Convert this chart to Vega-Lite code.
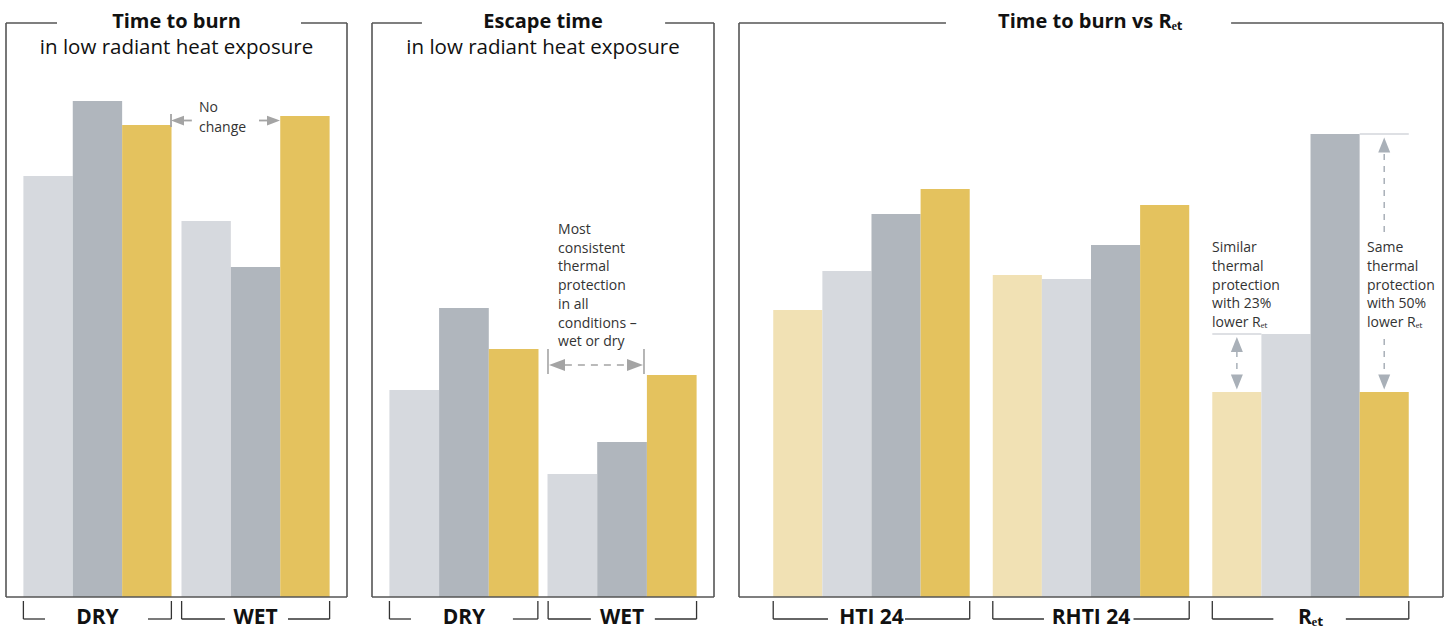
{
  "$schema": "https://vega.github.io/schema/vega-lite/v6.json",
  "background": "white",
  "padding": {"left": 5, "top": 11, "right": 2, "bottom": 0},
  "spacing": 25,
  "bounds": "flush",
  "resolve": {"scale": {"xOffset": "independent", "x": "independent"}},
  "config": {"view": {"stroke": null}, "font": "Open Sans"},
  "datasets": {
    "burn": [
      {"group": "DRY", "fabric": "Fabric B", "value": 42.1},
      {"group": "DRY", "fabric": "Fabric C", "value": 49.6},
      {"group": "DRY", "fabric": "Fabric D", "value": 47.2},
      {"group": "WET", "fabric": "Fabric B", "value": 37.6},
      {"group": "WET", "fabric": "Fabric C", "value": 33.0},
      {"group": "WET", "fabric": "Fabric D", "value": 48.1}
    ],
    "escape": [
      {"group": "DRY", "fabric": "Fabric B", "value": 20.7},
      {"group": "DRY", "fabric": "Fabric C", "value": 28.9},
      {"group": "DRY", "fabric": "Fabric D", "value": 24.8},
      {"group": "WET", "fabric": "Fabric B", "value": 12.3},
      {"group": "WET", "fabric": "Fabric C", "value": 15.5},
      {"group": "WET", "fabric": "Fabric D", "value": 22.2}
    ],
    "ret": [
      {"group": "HTI 24", "fabric": "Fabric A", "value": 28.7},
      {"group": "HTI 24", "fabric": "Fabric B", "value": 32.6},
      {"group": "HTI 24", "fabric": "Fabric C", "value": 38.3},
      {"group": "HTI 24", "fabric": "Fabric D", "value": 40.8},
      {"group": "RHTI 24", "fabric": "Fabric A", "value": 32.2},
      {"group": "RHTI 24", "fabric": "Fabric B", "value": 31.8},
      {"group": "RHTI 24", "fabric": "Fabric C", "value": 35.2},
      {"group": "RHTI 24", "fabric": "Fabric D", "value": 39.2},
      {"group": "Rₑₜ", "fabric": "Fabric A", "value": 20.5},
      {"group": "Rₑₜ", "fabric": "Fabric B", "value": 26.3},
      {"group": "Rₑₜ", "fabric": "Fabric C", "value": 46.3},
      {"group": "Rₑₜ", "fabric": "Fabric D", "value": 20.5}
    ],
    "lines1": [
      {"kind": "frame", "x": 0, "x2": 0, "y": 0, "y2": 57.4},
      {"kind": "frame", "x": 100, "x2": 100, "y": 0, "y2": 57.4},
      {"kind": "frame", "x": 0, "x2": 100, "y": 0, "y2": 0},
      {"kind": "frame", "x": 0, "x2": 14.96, "y": 57.4, "y2": 57.4},
      {"kind": "frame", "x": 86.5, "x2": 100, "y": 57.4, "y2": 57.4},
      {"kind": "bracket", "x": 5.1, "x2": 5.1, "y": -0.4, "y2": -2.2},
      {"kind": "bracket", "x": 5.1, "x2": 11.44, "y": -2.2, "y2": -2.2},
      {"kind": "bracket", "x": 41.64, "x2": 48.5, "y": -2.2, "y2": -2.2},
      {"kind": "bracket", "x": 48.5, "x2": 48.5, "y": -0.4, "y2": -2.2},
      {"kind": "bracket", "x": 51.5, "x2": 51.5, "y": -0.4, "y2": -2.2},
      {"kind": "bracket", "x": 51.5, "x2": 64.2, "y": -2.2, "y2": -2.2},
      {"kind": "bracket", "x": 82.7, "x2": 94.9, "y": -2.2, "y2": -2.2},
      {"kind": "bracket", "x": 94.9, "x2": 94.9, "y": -0.4, "y2": -2.2},
      {"kind": "arrow", "x": 48.39, "x2": 48.39, "y": 48.3, "y2": 47.0},
      {"kind": "arrow", "x": 52.2, "x2": 54.5, "y": 47.65, "y2": 47.65},
      {"kind": "arrow", "x": 74.2, "x2": 77.1, "y": 47.65, "y2": 47.65}
    ],
    "lines2": [
      {"kind": "frame", "x": 0, "x2": 0, "y": 0, "y2": 57.4},
      {"kind": "frame", "x": 100, "x2": 100, "y": 0, "y2": 57.4},
      {"kind": "frame", "x": 0, "x2": 100, "y": 0, "y2": 0},
      {"kind": "frame", "x": 0, "x2": 14.6, "y": 57.4, "y2": 57.4},
      {"kind": "frame", "x": 85.7, "x2": 100, "y": 57.4, "y2": 57.4},
      {"kind": "bracket", "x": 5.1, "x2": 5.1, "y": -0.4, "y2": -2.2},
      {"kind": "bracket", "x": 5.1, "x2": 11.4, "y": -2.2, "y2": -2.2},
      {"kind": "bracket", "x": 41.2, "x2": 48.5, "y": -2.2, "y2": -2.2},
      {"kind": "bracket", "x": 48.5, "x2": 48.5, "y": -0.4, "y2": -2.2},
      {"kind": "bracket", "x": 51.5, "x2": 51.5, "y": -0.4, "y2": -2.2},
      {"kind": "bracket", "x": 51.5, "x2": 64.0, "y": -2.2, "y2": -2.2},
      {"kind": "bracket", "x": 82.7, "x2": 94.9, "y": -2.2, "y2": -2.2},
      {"kind": "bracket", "x": 94.9, "x2": 94.9, "y": -0.4, "y2": -2.2},
      {"kind": "arrow", "x": 51.46, "x2": 51.46, "y": 24.8, "y2": 22.3},
      {"kind": "arrow", "x": 79.53, "x2": 79.53, "y": 24.8, "y2": 22.3},
      {"kind": "dash", "x": 56.4, "x2": 74.3, "y": 23.2, "y2": 23.2}
    ],
    "lines3": [
      {"kind": "frame", "x": 0, "x2": 0, "y": 0, "y2": 57.4},
      {"kind": "frame", "x": 100, "x2": 100, "y": 0, "y2": 57.4},
      {"kind": "frame", "x": 0, "x2": 100, "y": 0, "y2": 0},
      {"kind": "frame", "x": 0, "x2": 29.4, "y": 57.4, "y2": 57.4},
      {"kind": "frame", "x": 69.9, "x2": 100, "y": 57.4, "y2": 57.4},
      {"kind": "bracket", "x": 4.86, "x2": 4.86, "y": -0.4, "y2": -2.2},
      {"kind": "bracket", "x": 4.86, "x2": 12.64, "y": -2.2, "y2": -2.2},
      {"kind": "bracket", "x": 23.58, "x2": 32.77, "y": -2.2, "y2": -2.2},
      {"kind": "bracket", "x": 32.77, "x2": 32.77, "y": -0.4, "y2": -2.2},
      {"kind": "bracket", "x": 36.05, "x2": 36.05, "y": -0.4, "y2": -2.2},
      {"kind": "bracket", "x": 36.05, "x2": 43.32, "y": -2.2, "y2": -2.2},
      {"kind": "bracket", "x": 56.04, "x2": 63.95, "y": -2.2, "y2": -2.2},
      {"kind": "bracket", "x": 63.95, "x2": 63.95, "y": -0.4, "y2": -2.2},
      {"kind": "bracket", "x": 67.23, "x2": 67.23, "y": -0.4, "y2": -2.2},
      {"kind": "bracket", "x": 67.23, "x2": 75.9, "y": -2.2, "y2": -2.2},
      {"kind": "bracket", "x": 86.2, "x2": 95.14, "y": -2.2, "y2": -2.2},
      {"kind": "bracket", "x": 95.14, "x2": 95.14, "y": -0.4, "y2": -2.2},
      {"kind": "ref", "x": 67.23, "x2": 74.21, "y": 26.3, "y2": 26.3},
      {"kind": "ref", "x": 88.16, "x2": 95.14, "y": 46.3, "y2": 46.3},
      {"kind": "dash", "x": 70.72, "x2": 70.72, "y": 24.6, "y2": 22.3},
      {"kind": "dash", "x": 91.65, "x2": 91.65, "y": 44.3, "y2": 36.4},
      {"kind": "dash", "x": 91.65, "x2": 91.65, "y": 25.8, "y2": 22.4}
    ],
    "heads1": [
      {"x": 50.29, "y": 47.65, "dir": "left"},
      {"x": 78.45, "y": 47.65, "dir": "right"}
    ],
    "heads2": [
      {"x": 54.1, "y": 23.2, "dir": "left"},
      {"x": 76.9, "y": 23.2, "dir": "right"}
    ],
    "heads3": [
      {"x": 70.72, "y": 25.25, "dir": "up"},
      {"x": 70.72, "y": 21.5, "dir": "down"},
      {"x": 91.65, "y": 45.2, "dir": "up"},
      {"x": 91.65, "y": 21.5, "dir": "down"}
    ],
    "titles": [
      {"panel": 1, "role": "title", "x": 50, "y": 57.5, "text": "Time to burn"},
      {"panel": 1, "role": "sub", "x": 50, "y": 54.95, "text": "in low radiant heat exposure"},
      {"panel": 2, "role": "title", "x": 50, "y": 57.5, "text": "Escape time"},
      {"panel": 2, "role": "sub", "x": 50, "y": 54.95, "text": "in low radiant heat exposure"},
      {"panel": 3, "role": "title", "x": 49.9, "y": 57.5, "text": "Time to burn vs Rₑₜ"}
    ],
    "notes": [
      {"panel": 1, "x": 56.6, "y": 48.9, "text": "No\nchange"},
      {"panel": 2, "x": 54.4, "y": 36.7, "text": "Most\nconsistent\nthermal\nprotection\nin all\nconditions –\nwet or dry"},
      {"panel": 3, "x": 67.2, "y": 34.9, "text": "Similar\nthermal\nprotection\nwith 23%\nlower Rₑₜ"},
      {"panel": 3, "x": 89.2, "y": 34.9, "text": "Same\nthermal\nprotection\nwith 50%\nlower Rₑₜ"}
    ]
  },
  "hconcat": [
    {
      "width": 341,
      "height": 574,
      "resolve": {"scale": {"x": "independent"}},
      "layer": [
        {
          "data": {"name": "burn"},
          "mark": {"type": "bar"},
          "encoding": {
            "x": {"field": "group", "type": "nominal", "sort": ["DRY", "WET"], "axis": null, "scale": {"type": "band", "paddingInner": 0.063, "paddingOuter": 0.11}},
            "xOffset": {"field": "fabric", "type": "nominal", "sort": ["Fabric B", "Fabric C", "Fabric D"], "scale": {"paddingInner": 0, "paddingOuter": 0}},
            "y": {"field": "value", "type": "quantitative", "axis": null, "scale": {"domain": [0, 57.4], "nice": false, "zero": false}},
            "color": {"field": "fabric", "type": "nominal", "legend": null, "scale": {"domain": ["Fabric A", "Fabric B", "Fabric C", "Fabric D"], "range": ["#f1e1b4", "#d6d9de", "#b0b6bd", "#e4c25e"]}}
          }
        },
        {
          "data": {"name": "burn"},
          "transform": [{"aggregate": [{"op": "count", "as": "n"}], "groupby": ["group"]}],
          "mark": {"type": "text", "fontWeight": "bold", "fontSize": 21, "color": "#111111", "baseline": "middle"},
          "encoding": {
            "x": {"field": "group", "type": "nominal", "sort": ["DRY", "WET"], "axis": null, "scale": {"type": "band", "paddingInner": 0.063, "paddingOuter": 0.11}},
            "y": {"datum": -2.05, "type": "quantitative", "axis": null, "scale": {"domain": [0, 57.4], "nice": false, "zero": false}},
            "text": {"field": "group"}
          }
        },
        {
          "data": {"name": "lines1"},
          "transform": [{"filter": "datum.kind == 'frame'"}],
          "mark": {"type": "rule", "color": "#555555", "strokeWidth": 1.6},
          "encoding": {
            "x": {"field": "x", "type": "quantitative", "axis": null, "scale": {"domain": [0, 100], "nice": false, "zero": false}},
            "x2": {"field": "x2"},
            "y": {"field": "y", "type": "quantitative", "axis": null, "scale": {"domain": [0, 57.4], "nice": false, "zero": false}},
            "y2": {"field": "y2"}
          }
        },
        {
          "data": {"name": "lines1"},
          "transform": [{"filter": "datum.kind == 'bracket'"}],
          "mark": {"type": "rule", "color": "#333333", "strokeWidth": 1.3},
          "encoding": {
            "x": {"field": "x", "type": "quantitative", "axis": null, "scale": {"domain": [0, 100], "nice": false, "zero": false}},
            "x2": {"field": "x2"},
            "y": {"field": "y", "type": "quantitative", "axis": null, "scale": {"domain": [0, 57.4], "nice": false, "zero": false}},
            "y2": {"field": "y2"}
          }
        },
        {
          "data": {"name": "lines1"},
          "transform": [{"filter": "datum.kind == 'arrow'"}],
          "mark": {"type": "rule", "color": "#a4a4a4", "strokeWidth": 1.8},
          "encoding": {
            "x": {"field": "x", "type": "quantitative", "axis": null, "scale": {"domain": [0, 100], "nice": false, "zero": false}},
            "x2": {"field": "x2"},
            "y": {"field": "y", "type": "quantitative", "axis": null, "scale": {"domain": [0, 57.4], "nice": false, "zero": false}},
            "y2": {"field": "y2"}
          }
        },
        {
          "data": {"name": "heads1"},
          "mark": {"type": "point", "filled": true, "opacity": 1, "size": 169, "color": "#a4a4a4", "strokeWidth": 0},
          "encoding": {
            "x": {"field": "x", "type": "quantitative", "axis": null, "scale": {"domain": [0, 100], "nice": false, "zero": false}},
            "y": {"field": "y", "type": "quantitative", "axis": null, "scale": {"domain": [0, 57.4], "nice": false, "zero": false}},
            "shape": {"field": "dir", "type": "nominal", "legend": null, "scale": {"domain": ["left", "right", "up", "down"], "range": ["M-1,0L1,-0.75L1,0.75Z", "M1,0L-1,-0.75L-1,0.75Z", "M0,-1L0.8,1L-0.8,1Z", "M0,1L0.8,-1L-0.8,-1Z"]}}
          }
        },
        {
          "data": {"name": "titles"},
          "transform": [{"filter": "datum.panel == 1 && datum.role == 'title'"}],
          "mark": {"type": "text", "fontWeight": "bold", "fontSize": 20, "color": "#111111", "baseline": "middle"},
          "encoding": {
            "x": {"field": "x", "type": "quantitative", "axis": null, "scale": {"domain": [0, 100], "nice": false, "zero": false}},
            "y": {"field": "y", "type": "quantitative", "axis": null, "scale": {"domain": [0, 57.4], "nice": false, "zero": false}},
            "text": {"field": "text"}
          }
        },
        {
          "data": {"name": "titles"},
          "transform": [{"filter": "datum.panel == 1 && datum.role == 'sub'"}],
          "mark": {"type": "text", "fontSize": 20.5, "color": "#111111", "baseline": "middle"},
          "encoding": {
            "x": {"field": "x", "type": "quantitative", "axis": null, "scale": {"domain": [0, 100], "nice": false, "zero": false}},
            "y": {"field": "y", "type": "quantitative", "axis": null, "scale": {"domain": [0, 57.4], "nice": false, "zero": false}},
            "text": {"field": "text"}
          }
        },
        {
          "data": {"name": "notes"},
          "transform": [{"filter": "datum.panel == 1"}],
          "mark": {"type": "text", "fontSize": 14, "color": "#333333", "align": "left", "baseline": "middle", "lineBreak": "\n", "lineHeight": 20},
          "encoding": {
            "x": {"field": "x", "type": "quantitative", "axis": null, "scale": {"domain": [0, 100], "nice": false, "zero": false}},
            "y": {"field": "y", "type": "quantitative", "axis": null, "scale": {"domain": [0, 57.4], "nice": false, "zero": false}},
            "text": {"field": "text"}
          }
        }
      ]
    },
    {
      "width": 342,
      "height": 574,
      "resolve": {"scale": {"x": "independent"}},
      "layer": [
        {
          "data": {"name": "escape"},
          "mark": {"type": "bar"},
          "encoding": {
            "x": {"field": "group", "type": "nominal", "sort": ["DRY", "WET"], "axis": null, "scale": {"type": "band", "paddingInner": 0.057, "paddingOuter": 0.11}},
            "xOffset": {"field": "fabric", "type": "nominal", "sort": ["Fabric B", "Fabric C", "Fabric D"], "scale": {"paddingInner": 0, "paddingOuter": 0}},
            "y": {"field": "value", "type": "quantitative", "axis": null, "scale": {"domain": [0, 57.4], "nice": false, "zero": false}},
            "color": {"field": "fabric", "type": "nominal", "legend": null, "scale": {"domain": ["Fabric A", "Fabric B", "Fabric C", "Fabric D"], "range": ["#f1e1b4", "#d6d9de", "#b0b6bd", "#e4c25e"]}}
          }
        },
        {
          "data": {"name": "escape"},
          "transform": [{"aggregate": [{"op": "count", "as": "n"}], "groupby": ["group"]}],
          "mark": {"type": "text", "fontWeight": "bold", "fontSize": 21, "color": "#111111", "baseline": "middle"},
          "encoding": {
            "x": {"field": "group", "type": "nominal", "sort": ["DRY", "WET"], "axis": null, "scale": {"type": "band", "paddingInner": 0.057, "paddingOuter": 0.11}},
            "y": {"datum": -2.05, "type": "quantitative", "axis": null, "scale": {"domain": [0, 57.4], "nice": false, "zero": false}},
            "text": {"field": "group"}
          }
        },
        {
          "data": {"name": "lines2"},
          "transform": [{"filter": "datum.kind == 'frame'"}],
          "mark": {"type": "rule", "color": "#555555", "strokeWidth": 1.6},
          "encoding": {
            "x": {"field": "x", "type": "quantitative", "axis": null, "scale": {"domain": [0, 100], "nice": false, "zero": false}},
            "x2": {"field": "x2"},
            "y": {"field": "y", "type": "quantitative", "axis": null, "scale": {"domain": [0, 57.4], "nice": false, "zero": false}},
            "y2": {"field": "y2"}
          }
        },
        {
          "data": {"name": "lines2"},
          "transform": [{"filter": "datum.kind == 'bracket'"}],
          "mark": {"type": "rule", "color": "#333333", "strokeWidth": 1.3},
          "encoding": {
            "x": {"field": "x", "type": "quantitative", "axis": null, "scale": {"domain": [0, 100], "nice": false, "zero": false}},
            "x2": {"field": "x2"},
            "y": {"field": "y", "type": "quantitative", "axis": null, "scale": {"domain": [0, 57.4], "nice": false, "zero": false}},
            "y2": {"field": "y2"}
          }
        },
        {
          "data": {"name": "lines2"},
          "transform": [{"filter": "datum.kind == 'arrow'"}],
          "mark": {"type": "rule", "color": "#a4a4a4", "strokeWidth": 1.6},
          "encoding": {
            "x": {"field": "x", "type": "quantitative", "axis": null, "scale": {"domain": [0, 100], "nice": false, "zero": false}},
            "x2": {"field": "x2"},
            "y": {"field": "y", "type": "quantitative", "axis": null, "scale": {"domain": [0, 57.4], "nice": false, "zero": false}},
            "y2": {"field": "y2"}
          }
        },
        {
          "data": {"name": "lines2"},
          "transform": [{"filter": "datum.kind == 'dash'"}],
          "mark": {"type": "rule", "color": "#a4a4a4", "strokeWidth": 1.6, "strokeDash": [7, 6]},
          "encoding": {
            "x": {"field": "x", "type": "quantitative", "axis": null, "scale": {"domain": [0, 100], "nice": false, "zero": false}},
            "x2": {"field": "x2"},
            "y": {"field": "y", "type": "quantitative", "axis": null, "scale": {"domain": [0, 57.4], "nice": false, "zero": false}},
            "y2": {"field": "y2"}
          }
        },
        {
          "data": {"name": "heads2"},
          "mark": {"type": "point", "filled": true, "opacity": 1, "size": 256, "color": "#a4a4a4", "strokeWidth": 0},
          "encoding": {
            "x": {"field": "x", "type": "quantitative", "axis": null, "scale": {"domain": [0, 100], "nice": false, "zero": false}},
            "y": {"field": "y", "type": "quantitative", "axis": null, "scale": {"domain": [0, 57.4], "nice": false, "zero": false}},
            "shape": {"field": "dir", "type": "nominal", "legend": null, "scale": {"domain": ["left", "right", "up", "down"], "range": ["M-1,0L1,-0.7L1,0.7Z", "M1,0L-1,-0.7L-1,0.7Z", "M0,-1L0.8,1L-0.8,1Z", "M0,1L0.8,-1L-0.8,-1Z"]}}
          }
        },
        {
          "data": {"name": "titles"},
          "transform": [{"filter": "datum.panel == 2 && datum.role == 'title'"}],
          "mark": {"type": "text", "fontWeight": "bold", "fontSize": 20, "color": "#111111", "baseline": "middle"},
          "encoding": {
            "x": {"field": "x", "type": "quantitative", "axis": null, "scale": {"domain": [0, 100], "nice": false, "zero": false}},
            "y": {"field": "y", "type": "quantitative", "axis": null, "scale": {"domain": [0, 57.4], "nice": false, "zero": false}},
            "text": {"field": "text"}
          }
        },
        {
          "data": {"name": "titles"},
          "transform": [{"filter": "datum.panel == 2 && datum.role == 'sub'"}],
          "mark": {"type": "text", "fontSize": 20.5, "color": "#111111", "baseline": "middle"},
          "encoding": {
            "x": {"field": "x", "type": "quantitative", "axis": null, "scale": {"domain": [0, 100], "nice": false, "zero": false}},
            "y": {"field": "y", "type": "quantitative", "axis": null, "scale": {"domain": [0, 57.4], "nice": false, "zero": false}},
            "text": {"field": "text"}
          }
        },
        {
          "data": {"name": "notes"},
          "transform": [{"filter": "datum.panel == 2"}],
          "mark": {"type": "text", "fontSize": 14, "color": "#333333", "align": "left", "baseline": "middle", "lineBreak": "\n", "lineHeight": 18.7},
          "encoding": {
            "x": {"field": "x", "type": "quantitative", "axis": null, "scale": {"domain": [0, 100], "nice": false, "zero": false}},
            "y": {"field": "y", "type": "quantitative", "axis": null, "scale": {"domain": [0, 57.4], "nice": false, "zero": false}},
            "text": {"field": "text"}
          }
        }
      ]
    },
    {
      "width": 704,
      "height": 574,
      "resolve": {"scale": {"x": "independent"}},
      "layer": [
        {
          "data": {"name": "ret"},
          "mark": {"type": "bar"},
          "encoding": {
            "x": {"field": "group", "type": "nominal", "sort": ["HTI 24", "RHTI 24", "Rₑₜ"], "axis": null, "scale": {"type": "band", "paddingInner": 0.105, "paddingOuter": 0.156}},
            "xOffset": {"field": "fabric", "type": "nominal", "sort": ["Fabric A", "Fabric B", "Fabric C", "Fabric D"], "scale": {"paddingInner": 0, "paddingOuter": 0}},
            "y": {"field": "value", "type": "quantitative", "axis": null, "scale": {"domain": [0, 57.4], "nice": false, "zero": false}},
            "color": {"field": "fabric", "type": "nominal", "legend": null, "scale": {"domain": ["Fabric A", "Fabric B", "Fabric C", "Fabric D"], "range": ["#f1e1b4", "#d6d9de", "#b0b6bd", "#e4c25e"]}}
          }
        },
        {
          "data": {"name": "ret"},
          "transform": [{"aggregate": [{"op": "count", "as": "n"}], "groupby": ["group"]}],
          "mark": {"type": "text", "fontWeight": "bold", "fontSize": 21, "color": "#111111", "baseline": "middle"},
          "encoding": {
            "x": {"field": "group", "type": "nominal", "sort": ["HTI 24", "RHTI 24", "Rₑₜ"], "axis": null, "scale": {"type": "band", "paddingInner": 0.105, "paddingOuter": 0.156}},
            "y": {"datum": -2.05, "type": "quantitative", "axis": null, "scale": {"domain": [0, 57.4], "nice": false, "zero": false}},
            "text": {"field": "group"}
          }
        },
        {
          "data": {"name": "lines3"},
          "transform": [{"filter": "datum.kind == 'frame'"}],
          "mark": {"type": "rule", "color": "#555555", "strokeWidth": 1.6},
          "encoding": {
            "x": {"field": "x", "type": "quantitative", "axis": null, "scale": {"domain": [0, 100], "nice": false, "zero": false}},
            "x2": {"field": "x2"},
            "y": {"field": "y", "type": "quantitative", "axis": null, "scale": {"domain": [0, 57.4], "nice": false, "zero": false}},
            "y2": {"field": "y2"}
          }
        },
        {
          "data": {"name": "lines3"},
          "transform": [{"filter": "datum.kind == 'bracket'"}],
          "mark": {"type": "rule", "color": "#333333", "strokeWidth": 1.3},
          "encoding": {
            "x": {"field": "x", "type": "quantitative", "axis": null, "scale": {"domain": [0, 100], "nice": false, "zero": false}},
            "x2": {"field": "x2"},
            "y": {"field": "y", "type": "quantitative", "axis": null, "scale": {"domain": [0, 57.4], "nice": false, "zero": false}},
            "y2": {"field": "y2"}
          }
        },
        {
          "data": {"name": "lines3"},
          "transform": [{"filter": "datum.kind == 'ref'"}],
          "mark": {"type": "rule", "color": "#d3d6db", "strokeWidth": 1.5},
          "encoding": {
            "x": {"field": "x", "type": "quantitative", "axis": null, "scale": {"domain": [0, 100], "nice": false, "zero": false}},
            "x2": {"field": "x2"},
            "y": {"field": "y", "type": "quantitative", "axis": null, "scale": {"domain": [0, 57.4], "nice": false, "zero": false}},
            "y2": {"field": "y2"}
          }
        },
        {
          "data": {"name": "lines3"},
          "transform": [{"filter": "datum.kind == 'dash'"}],
          "mark": {"type": "rule", "color": "#a9b0b8", "strokeWidth": 1.5, "strokeDash": [6, 6]},
          "encoding": {
            "x": {"field": "x", "type": "quantitative", "axis": null, "scale": {"domain": [0, 100], "nice": false, "zero": false}},
            "x2": {"field": "x2"},
            "y": {"field": "y", "type": "quantitative", "axis": null, "scale": {"domain": [0, 57.4], "nice": false, "zero": false}},
            "y2": {"field": "y2"}
          }
        },
        {
          "data": {"name": "heads3"},
          "mark": {"type": "point", "filled": true, "opacity": 1, "size": 225, "color": "#a9b0b8", "strokeWidth": 0},
          "encoding": {
            "x": {"field": "x", "type": "quantitative", "axis": null, "scale": {"domain": [0, 100], "nice": false, "zero": false}},
            "y": {"field": "y", "type": "quantitative", "axis": null, "scale": {"domain": [0, 57.4], "nice": false, "zero": false}},
            "shape": {"field": "dir", "type": "nominal", "legend": null, "scale": {"domain": ["left", "right", "up", "down"], "range": ["M-1,0L1,-0.75L1,0.75Z", "M1,0L-1,-0.75L-1,0.75Z", "M0,-1L0.8,1L-0.8,1Z", "M0,1L0.8,-1L-0.8,-1Z"]}}
          }
        },
        {
          "data": {"name": "titles"},
          "transform": [{"filter": "datum.panel == 3 && datum.role == 'title'"}],
          "mark": {"type": "text", "fontWeight": "bold", "fontSize": 20, "color": "#111111", "baseline": "middle"},
          "encoding": {
            "x": {"field": "x", "type": "quantitative", "axis": null, "scale": {"domain": [0, 100], "nice": false, "zero": false}},
            "y": {"field": "y", "type": "quantitative", "axis": null, "scale": {"domain": [0, 57.4], "nice": false, "zero": false}},
            "text": {"field": "text"}
          }
        },
        {
          "data": {"name": "notes"},
          "transform": [{"filter": "datum.panel == 3"}],
          "mark": {"type": "text", "fontSize": 14, "color": "#333333", "align": "left", "baseline": "middle", "lineBreak": "\n", "lineHeight": 18.8},
          "encoding": {
            "x": {"field": "x", "type": "quantitative", "axis": null, "scale": {"domain": [0, 100], "nice": false, "zero": false}},
            "y": {"field": "y", "type": "quantitative", "axis": null, "scale": {"domain": [0, 57.4], "nice": false, "zero": false}},
            "text": {"field": "text"}
          }
        }
      ]
    }
  ]
}
